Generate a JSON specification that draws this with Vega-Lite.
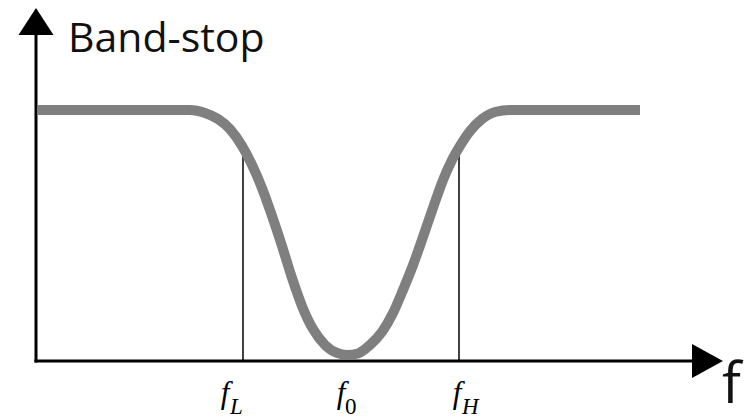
{
  "$schema": "https://vega.github.io/schema/vega-lite/v6.json",
  "width": 748,
  "height": 419,
  "autosize": {"type": "fit", "contains": "padding"},
  "padding": 0,
  "background": "white",
  "config": {"view": {"stroke": null}},
  "datasets": {
    "response": [
      {"freq": 1, "gain": 1.0},
      {"freq": 154, "gain": 1.0},
      {"freq": 169, "gain": 0.988},
      {"freq": 182, "gain": 0.964},
      {"freq": 194, "gain": 0.924},
      {"freq": 206, "gain": 0.857},
      {"freq": 216, "gain": 0.781},
      {"freq": 226, "gain": 0.689},
      {"freq": 236, "gain": 0.578},
      {"freq": 246, "gain": 0.458},
      {"freq": 256, "gain": 0.331},
      {"freq": 266, "gain": 0.219},
      {"freq": 277, "gain": 0.127},
      {"freq": 289, "gain": 0.064},
      {"freq": 301, "gain": 0.032},
      {"freq": 311, "gain": 0.024},
      {"freq": 322, "gain": 0.03},
      {"freq": 334, "gain": 0.064},
      {"freq": 346, "gain": 0.116},
      {"freq": 357, "gain": 0.191},
      {"freq": 367, "gain": 0.283},
      {"freq": 377, "gain": 0.382},
      {"freq": 387, "gain": 0.494},
      {"freq": 397, "gain": 0.61},
      {"freq": 407, "gain": 0.721},
      {"freq": 416, "gain": 0.801},
      {"freq": 424, "gain": 0.857},
      {"freq": 434, "gain": 0.916},
      {"freq": 446, "gain": 0.964},
      {"freq": 459, "gain": 0.992},
      {"freq": 474, "gain": 1.0},
      {"freq": 604, "gain": 1.0}
    ],
    "cutoffs": [
      {"name": "fL", "freq": 207, "gain": 0.841, "floor": 0},
      {"name": "fH", "freq": 423, "gain": 0.841, "floor": 0}
    ],
    "axes": [
      {"axis": "frequency", "freq": -1.5, "gain": 0, "freq2": 656, "gain2": 0},
      {"axis": "magnitude", "freq": 0, "gain": -0.006, "freq2": 0, "gain2": 1.299}
    ],
    "arrowsUp": [{"freq": 0, "gain": 1.3526}],
    "arrowsRight": [{"freq": 671.5, "gain": 0}],
    "labels": [
      {"sym": "f", "sub": "L", "upright": false, "at": 189, "gain": -0.167},
      {"sym": "f", "sub": "0", "upright": true, "at": 305, "gain": -0.167},
      {"sym": "f", "sub": "H", "upright": false, "at": 421, "gain": -0.167}
    ],
    "titles": [
      {"text": "Band-stop", "freq": 32, "gain": 1.231},
      {"text": "f", "freq": 686, "gain": -0.167}
    ]
  },
  "layer": [
    {
      "data": {"name": "axes"},
      "mark": {"type": "rule", "color": "black", "strokeWidth": 3, "strokeCap": "butt"},
      "encoding": {
        "x": {"field": "freq", "type": "quantitative", "scale": {"domain": [-36, 712], "nice": false, "zero": false}, "axis": null},
        "x2": {"field": "freq2"},
        "y": {"field": "gain", "type": "quantitative", "scale": {"domain": [-0.2311, 1.4382], "nice": false, "zero": false}, "axis": null},
        "y2": {"field": "gain2"}
      }
    },
    {
      "data": {"name": "cutoffs"},
      "mark": {"type": "rule", "color": "black", "strokeWidth": 1.5},
      "encoding": {
        "x": {"field": "freq", "type": "quantitative", "axis": null},
        "y": {"field": "gain", "type": "quantitative", "axis": null},
        "y2": {"field": "floor"}
      }
    },
    {
      "data": {"name": "response"},
      "mark": {"type": "line", "color": "#7f7f7f", "strokeWidth": 10, "interpolate": "monotone", "strokeCap": "butt", "strokeJoin": "round"},
      "encoding": {
        "x": {"field": "freq", "type": "quantitative", "axis": null},
        "y": {"field": "gain", "type": "quantitative", "axis": null}
      }
    },
    {
      "data": {"name": "arrowsUp"},
      "mark": {"type": "point", "shape": "M0,-0.77L1,0.77L-1,0.77Z", "size": 1225, "filled": true, "color": "black", "opacity": 1},
      "encoding": {
        "x": {"field": "freq", "type": "quantitative", "axis": null},
        "y": {"field": "gain", "type": "quantitative", "axis": null}
      }
    },
    {
      "data": {"name": "arrowsRight"},
      "mark": {"type": "point", "shape": "M0.91,0L-0.91,-1L-0.91,1Z", "size": 1156, "filled": true, "color": "black", "opacity": 1},
      "encoding": {
        "x": {"field": "freq", "type": "quantitative", "axis": null},
        "y": {"field": "gain", "type": "quantitative", "axis": null}
      }
    },
    {
      "data": {"name": "labels"},
      "mark": {"type": "text", "font": "Liberation Serif", "fontStyle": "italic", "fontSize": 31, "align": "center", "baseline": "alphabetic", "color": "black"},
      "encoding": {
        "x": {"field": "at", "type": "quantitative", "axis": null},
        "y": {"field": "gain", "type": "quantitative", "axis": null},
        "text": {"field": "sym"}
      }
    },
    {
      "data": {"name": "labels"},
      "transform": [{"filter": "!datum.upright"}],
      "mark": {"type": "text", "font": "Liberation Serif", "fontStyle": "italic", "fontSize": 23, "align": "left", "baseline": "alphabetic", "dx": 5, "dy": 11, "color": "black"},
      "encoding": {
        "x": {"field": "at", "type": "quantitative", "axis": null},
        "y": {"field": "gain", "type": "quantitative", "axis": null},
        "text": {"field": "sub"}
      }
    },
    {
      "data": {"name": "labels"},
      "transform": [{"filter": "datum.upright"}],
      "mark": {"type": "text", "font": "Liberation Serif", "fontSize": 23, "align": "left", "baseline": "alphabetic", "dx": 4, "dy": 11, "color": "black"},
      "encoding": {
        "x": {"field": "at", "type": "quantitative", "axis": null},
        "y": {"field": "gain", "type": "quantitative", "axis": null},
        "text": {"field": "sub"}
      }
    },
    {
      "data": {"name": "titles"},
      "transform": [{"filter": "datum.text == 'Band-stop'"}],
      "mark": {"type": "text", "font": "Open Sans", "fontSize": 41, "align": "left", "baseline": "alphabetic", "color": "#111111"},
      "encoding": {
        "x": {"field": "freq", "type": "quantitative", "axis": null},
        "y": {"field": "gain", "type": "quantitative", "axis": null},
        "text": {"field": "text"}
      }
    },
    {
      "data": {"name": "titles"},
      "transform": [{"filter": "datum.text == 'f'"}],
      "mark": {"type": "text", "font": "Open Sans", "fontSize": 56, "align": "left", "baseline": "alphabetic", "color": "#111111"},
      "encoding": {
        "x": {"field": "freq", "type": "quantitative", "axis": null},
        "y": {"field": "gain", "type": "quantitative", "axis": null},
        "text": {"field": "text"}
      }
    }
  ]
}
